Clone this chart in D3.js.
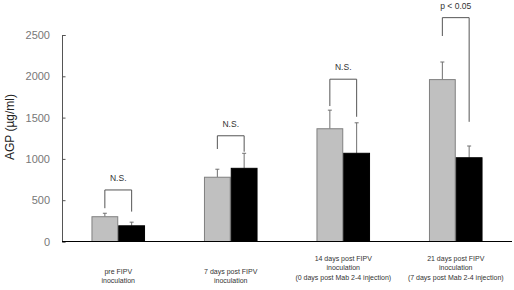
<!DOCTYPE html>
<html lang="en">
  <head>
    <meta charset="UTF-8" />
    <title>AGP</title>
    <style>
      * {
        margin: 0;
        padding: 0;
      }
      body {
        background-color: #fff;
      }
      text {
        font-family: "Liberation Sans", Arial, sans-serif;
      }
    </style>
  </head>
  <body>
    <script src="https://cdn.jsdelivr.net/npm/d3@7/dist/d3.min.js"></script>
    <script>
      // data
      const categories = [
        ["pre FIPV", "inoculation"],
        ["7 days post FIPV", "inoculation"],
        ["14 days post FIPV", "inoculation", "(0 days post Mab 2-4 injection)"],
        ["21 days post FIPV", "inoculation", "(7 days post Mab 2-4 injection)"],
      ];
      const series = ["grey", "black"];
      const greyMean = [300, 778, 1365, 1960];
      const greyErr = [42, 97, 225, 213];
      const blackMean = [190, 886, 1068, 1014];
      const blackErr = [44, 182, 369, 142];
      const yTicks = [0, 500, 1000, 1500, 2000, 2500];

      // significance brackets (in AGP units)
      const sigLabels = ["N.S.", "N.S.", "N.S.", "p < 0.05"];
      const bracketTop = [624, 1280, 1965, 2710];
      const legLeft = [403, 1120, 1640, 2488];
      const legRight = [362, 1087, 1510, 1449];

      const width = 514,
        height = 290;
      const svg = d3.select("body").append("svg").attr("width", width).attr("height", height);

      const x0 = d3
        .scaleBand()
        .domain(d3.range(categories.length))
        .range([62, 512]);
      const x1 = d3.scaleBand().domain(series).range([0, x0.bandwidth()]).paddingOuter(1.1);
      const y = d3.scaleLinear().domain([0, 2500]).range([241.5, 35]);

      const colors = { grey: "#c0c0c0", black: "#000" };
      const strokes = { grey: "#808080", black: "#000" };

      const rows = categories.map((c, i) => ({
        i,
        vals: [
          { s: "grey", v: greyMean[i], e: greyErr[i] },
          { s: "black", v: blackMean[i], e: blackErr[i] },
        ],
      }));

      // y axis
      const yAxis = d3.axisLeft(y).tickValues(yTicks).tickFormat(d3.format("d")).tickSize(-3.5).tickPadding(12);
      const gy = svg.append("g").attr("transform", "translate(62,0)").call(yAxis);
      gy.select(".domain").attr("stroke", "#555");
      gy.selectAll(".tick line").attr("stroke", "#555");
      gy.selectAll(".tick text").attr("fill", "#777").attr("font-size", 11);

      svg
        .append("text")
        .attr("transform", "translate(14,127) rotate(-90)")
        .attr("text-anchor", "middle")
        .attr("font-size", 12)
        .attr("fill", "#222")
        .text("AGP (\u00b5g/ml)");

      // bars
      const group = svg
        .selectAll("g.group")
        .data(rows)
        .enter()
        .append("g")
        .attr("class", "group")
        .attr("transform", (d) => `translate(${x0(d.i)},0)`);

      const bar = group
        .selectAll("g.bar")
        .data((d) => d.vals)
        .enter()
        .append("g");

      // error bars
      bar
        .append("line")
        .attr("x1", (d) => x1(d.s) + x1.bandwidth() / 2)
        .attr("x2", (d) => x1(d.s) + x1.bandwidth() / 2)
        .attr("y1", (d) => y(d.v))
        .attr("y2", (d) => y(d.v + d.e))
        .attr("stroke", "#707070");
      bar
        .append("line")
        .attr("x1", (d) => x1(d.s) + x1.bandwidth() / 2 - 2)
        .attr("x2", (d) => x1(d.s) + x1.bandwidth() / 2 + 2)
        .attr("y1", (d) => y(d.v + d.e))
        .attr("y2", (d) => y(d.v + d.e))
        .attr("stroke", "#707070");

      bar
        .append("rect")
        .attr("x", (d) => x1(d.s) + 0.5)
        .attr("y", (d) => y(d.v))
        .attr("width", x1.bandwidth() - 1)
        .attr("height", (d) => y(0) - y(d.v))
        .attr("fill", (d) => colors[d.s])
        .attr("stroke", (d) => strokes[d.s]);

      // brackets
      const cx = (s) => x1(s) + x1.bandwidth() / 2;
      group
        .append("path")
        .attr(
          "d",
          (d) =>
            `M${cx("grey")},${y(legLeft[d.i])}V${y(bracketTop[d.i])}H${cx("black")}V${y(legRight[d.i])}`
        )
        .attr("fill", "none")
        .attr("stroke", "#555");
      group
        .append("text")
        .attr("x", x0.bandwidth() / 2)
        .attr("y", (d) => y(bracketTop[d.i]) - 9)
        .attr("text-anchor", "middle")
        .attr("font-size", 8.5)
        .attr("fill", "#333")
        .text((d) => sigLabels[d.i]);

      // x axis
      svg
        .append("line")
        .attr("x1", 62)
        .attr("x2", 512)
        .attr("y1", y(0))
        .attr("y2", y(0))
        .attr("stroke", "#000");

      // category labels
      group
        .append("text")
        .attr("text-anchor", "middle")
        .attr("font-size", 7)
        .attr("fill", "#333")
        .selectAll("tspan")
        .data((d) => categories[d.i].map((t) => ({ t, n: categories[d.i].length })))
        .enter()
        .append("tspan")
        .attr("x", x0.bandwidth() / 2)
        .attr("y", (d, j) => 297 - 13 * d.n + 2.5 + j * 9.7)
        .text((d) => d.t);
    </script>
  </body>
</html>
